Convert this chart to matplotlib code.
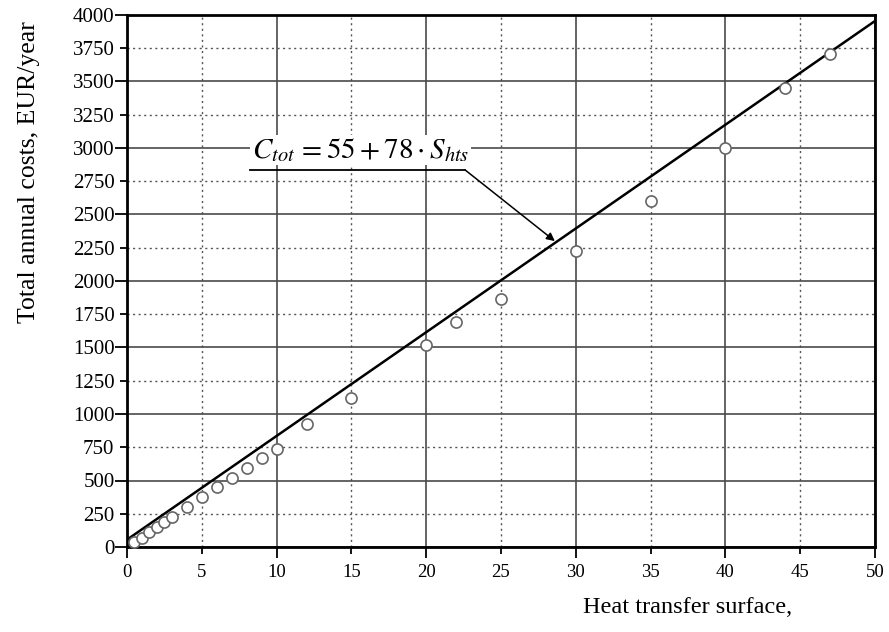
import matplotlib.pyplot as plt
import numpy as np

# Measured points: heat transfer surface vs total annual costs
surface = [0.5, 1, 1.5, 2, 2.5, 3, 4, 5, 6, 7, 8, 9, 10, 12, 15, 20, 22, 25, 30, 35, 40, 44, 47]
costs = [40, 70, 110, 153, 186, 226, 300, 378, 451, 521, 592, 667, 739, 925,
         1120, 1520, 1692, 1867, 2228, 2601, 3000, 3450, 3710]

# Fitted line C_tot = 55 + 78 * S_hts
fit_a, fit_b = 55, 78
fit_x = [0, 50]

x_ticks = np.arange(0, 51, 5)
y_ticks = np.arange(0, 4001, 250)

plt.rcParams['font.family'] = ['Liberation Serif', 'DejaVu Serif']
plt.rcParams['mathtext.fontset'] = 'stix'

fig = plt.figure(figsize=(8.89, 6.32), dpi=100)
ax = fig.add_axes([127 / 889, 1 - 547 / 632, 748 / 889, 532 / 632])

ax.set_xlim(0, 50)
ax.set_ylim(0, 4000)
ax.set_xticks(x_ticks)
ax.set_yticks(y_ticks)

dotted = (0, (1.5, 2.5))
ax.grid(True, color='#4a4a4a', linestyle='-', linewidth=1.2)
ax.set_axisbelow(True)
ax.tick_params(axis='x', direction='out', length=5, width=1.3, labelsize=13.5, pad=7)
ax.tick_params(axis='y', direction='out', length=5, width=1.3, labelsize=15, pad=4)

# every other tick: long tick + solid grid, otherwise short tick + dotted grid
for axis, big in ((ax.xaxis, 8), (ax.yaxis, 9)):
    for i, t in enumerate(axis.get_major_ticks()):
        if i % 2 == 0:
            t.tick1line.set_markersize(big)
        else:
            t.gridline.set_linestyle(dotted)
            t.gridline.set_linewidth(1.0)
            t.gridline.set_color('#555555')

for s in ax.spines.values():
    s.set_linewidth(2.0)

fx = np.array(fit_x)
ax.plot(fx, fit_a + fit_b * fx, color='black', linewidth=1.8, zorder=3)
ax.plot(surface, costs, 'o', markerfacecolor='white', markeredgecolor='#666666',
        markersize=8, markeredgewidth=1.2, zorder=4, clip_on=False)

# annotation with underline leader and arrow
ax.text(15.6, 2985, r'$C_{tot}\,=55+78\cdot S_{hts}$', fontsize=21, ha='center', va='center',
        bbox=dict(facecolor='white', edgecolor='none', pad=1), zorder=5)
ax.plot([8.2, 22.6], [2835, 2835], color='black', linewidth=1.3, zorder=5)
ax.annotate('', xy=(28.6, 2300), xytext=(22.6, 2835),
            arrowprops=dict(arrowstyle='-|>', color='black', linewidth=1.1, mutation_scale=12,
                            shrinkA=0, shrinkB=0), zorder=5)

ax.set_ylabel('Total annual costs, EUR/year', fontsize=18.5)
ax.yaxis.set_label_coords(-0.116, 0.705)
ax.text(0.75, -0.113, 'Heat transfer surface,', transform=ax.transAxes,
        fontsize=17.5, ha='center', va='center')

fig.savefig('out.png', dpi=100)
